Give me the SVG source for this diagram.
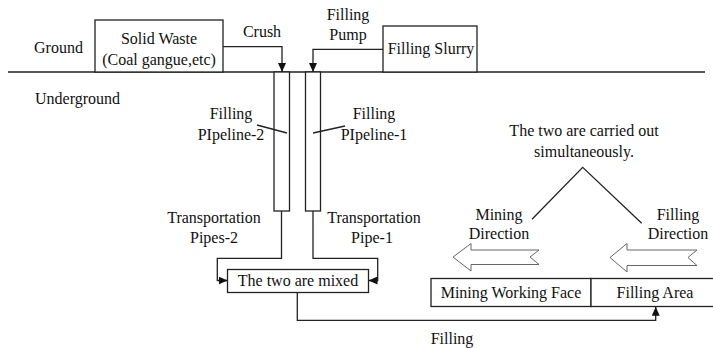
<svg xmlns="http://www.w3.org/2000/svg" width="713" height="348" viewBox="0 0 713 348" font-family="Liberation Serif, Times New Roman, serif" font-size="16">
<style>
.m{text-anchor:middle}
text{fill:#111}
.box{fill:#fff;stroke:#222;stroke-width:1.3}
.ln{fill:none;stroke:#222;stroke-width:1.3}
.hol{fill:#fff;stroke:#666;stroke-width:1}
</style>
<defs>
<marker id="ah" markerUnits="userSpaceOnUse" markerWidth="10" markerHeight="9" refX="9" refY="4" orient="auto">
<path d="M0,0 L9,4 L0,8 Z" fill="#111"/>
</marker>
</defs>
<rect width="713" height="348" fill="#fff"/>

<g id="ground">
<line class="ln" x1="8" y1="72" x2="705" y2="72"/>
<text x="34" y="53">Ground</text>
<text x="35" y="104">Underground</text>
</g>

<g id="solid-waste">
<rect class="box" x="95" y="20" width="128" height="52"/>
<text class="m" x="159" y="44">Solid Waste</text>
<text class="m" x="159" y="65">(Coal gangue,etc)</text>
</g>

<g id="filling-slurry">
<rect class="box" x="383" y="26" width="94" height="46"/>
<text class="m" x="431" y="54">Filling Slurry</text>
</g>

<g id="pipeline-2">
<rect class="box" x="274" y="72" width="15.5" height="139"/>
<text class="m" x="231" y="119">Filling</text>
<text class="m" x="231" y="140">PIpeline-2</text>
<line class="ln" x1="257" y1="125" x2="287" y2="133"/>
</g>

<g id="pipeline-1">
<rect class="box" x="305.5" y="72" width="15" height="139"/>
<text class="m" x="374" y="119">Filling</text>
<text class="m" x="374" y="140">PIpeline-1</text>
<line class="ln" x1="313" y1="133" x2="345" y2="126"/>
</g>

<g id="mixed">
<rect class="box" x="227.5" y="269.5" width="141" height="23"/>
<text class="m" x="298" y="286">The two are mixed</text>
</g>

<g id="working-face">
<rect class="box" x="431" y="278.5" width="160" height="28"/>
<text class="m" x="511" y="298">Mining Working Face</text>
</g>

<g id="filling-area">
<rect class="box" x="591" y="278.5" width="125" height="28"/>
<text class="m" x="655" y="298">Filling Area</text>
</g>

<g id="mining-direction">
<text class="m" x="499" y="220">Mining</text>
<text class="m" x="499" y="239">Direction</text>
<path class="hol" d="M453,257 L471,243.5 L471,250 L539,250 L530,257 L539,264.5 L471,264.5 L471,271 Z"/>
</g>

<g id="filling-direction">
<text class="m" x="678" y="220">Filling</text>
<text class="m" x="678" y="239">Direction</text>
<path class="hol" d="M610,257.5 L627,243.5 L627,250 L697,250 L688,257.5 L697,265.5 L627,265.5 L627,272 Z"/>
</g>

<g id="simultaneous">
<text class="m" x="584" y="136">The two are carried out</text>
<text class="m" x="584" y="157">simultaneously.</text>
</g>

<g id="connectors">
<path class="ln" d="M223,46.7 H282 V72" marker-end="url(#ah)"/>
<text class="m" x="262" y="37">Crush</text>
<path class="ln" d="M383,49.3 H313 V72" marker-end="url(#ah)"/>
<text class="m" x="348" y="20">Filling</text>
<text class="m" x="348" y="40">Pump</text>
<path class="ln" d="M281.5,211 V258.3 H217.3 V280.5 H227.5" marker-end="url(#ah)"/>
<text class="m" x="214" y="223">Transportation</text>
<text class="m" x="214" y="243">Pipes-2</text>
<path class="ln" d="M313,211 V258.3 H377.7 V280.5 H368.5" marker-end="url(#ah)"/>
<text class="m" x="374" y="223">Transportation</text>
<text class="m" x="372" y="243">Pipe-1</text>
<path class="ln" d="M297.3,292.7 V320.3 H655.7 V306.8" marker-end="url(#ah)"/>
<text class="m" x="452" y="344">Filling</text>
<polyline class="ln" points="532,219.3 582.7,167.3 641.7,223.3"/>
</g>
</svg>
